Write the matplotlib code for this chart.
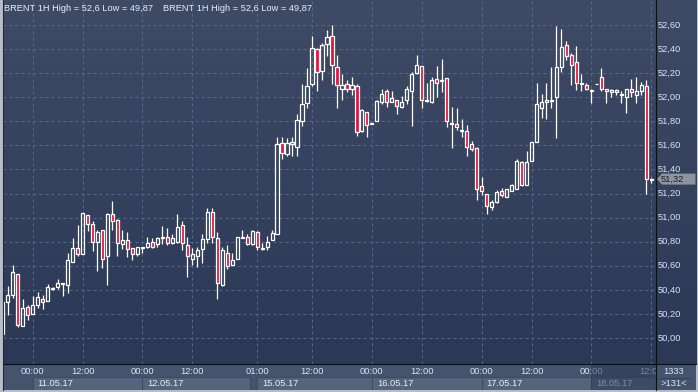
import numpy as np
import matplotlib
matplotlib.use("Agg")
import matplotlib.pyplot as plt
from matplotlib.patches import Rectangle, Polygon

plt.rcParams['font.family'] = ['Liberation Sans', 'DejaVu Sans']

# ---------------- data (hourly BRENT candles) ----------------
opens = [50.03, 50.30, 50.36, 50.53, 50.10, 50.26, 50.20, 50.27, 50.32, 50.31,
         50.41, 50.42, 50.46, 50.44, 50.63, 50.75, 50.70, 51.02, 50.95, 50.80,
         50.90, 50.68, 51.03, 50.98, 50.78, 50.81, 50.75, 50.70, 50.75, 50.76,
         50.80, 50.78, 50.83, 50.84, 50.79, 50.80, 50.94, 50.77, 50.66, 50.68,
         50.74, 50.82, 51.05, 50.83, 50.44, 50.71, 50.61, 50.66, 50.84, 50.84,
         50.78, 50.88, 50.74, 50.76, 50.81, 50.86, 51.62, 51.53, 51.63, 51.59,
         51.80, 51.95, 52.11, 52.40, 52.22, 52.44, 52.51, 52.25, 52.07, 52.11,
         52.07, 52.09, 51.72, 51.88, 51.78, 51.80, 51.96, 52.05, 51.96, 51.98,
         51.92, 51.98, 52.05, 52.20, 52.26, 51.97, 51.96, 52.15, 52.14, 52.16,
         51.78, 51.78, 51.72, 51.72, 51.61, 51.58, 51.26, 51.20, 51.09, 51.13,
         51.22, 51.17, 51.22, 51.24, 51.46, 51.27, 51.47, 51.63, 51.91, 51.98,
         51.97, 52.00, 52.25, 52.43, 52.35, 52.29, 52.11, 52.10, 52.06, 52.11,
         52.17, 52.07, 52.06, 52.06, 52.02, 52.00, 52.07, 52.02, 52.05, 52.09,
         51.32]
highs = [50.32, 50.43, 50.61, 50.53, 50.32, 50.27, 50.35, 50.38, 50.36, 50.45,
         50.42, 50.49, 50.46, 50.71, 50.83, 50.94, 51.04, 51.02, 50.97, 50.90,
         50.90, 51.04, 51.14, 50.99, 50.90, 50.88, 50.75, 50.76, 50.76, 50.84,
         50.83, 50.84, 50.93, 50.91, 50.86, 51.03, 50.97, 50.84, 50.75, 50.76,
         50.86, 51.08, 51.08, 50.88, 50.76, 50.77, 50.71, 50.84, 50.90, 50.86,
         50.90, 50.89, 50.79, 50.85, 50.90, 51.67, 51.67, 51.66, 51.67, 51.86,
         52.11, 52.24, 52.51, 52.41, 52.45, 52.56, 52.60, 52.35, 52.19, 52.14,
         52.17, 52.11, 51.90, 51.88, 51.78, 51.98, 52.07, 52.07, 52.05, 51.98,
         52.01, 52.09, 52.21, 52.35, 52.26, 52.12, 52.17, 52.26, 52.32, 52.16,
         51.92, 51.91, 51.82, 51.77, 51.64, 51.59, 51.34, 51.20, 51.15, 51.23,
         51.25, 51.24, 51.28, 51.49, 51.47, 51.55, 51.63, 52.12, 52.03, 52.12,
         52.25, 52.59, 52.57, 52.47, 52.37, 52.43, 52.19, 52.12, 52.07, 52.11,
         52.24, 52.07, 52.07, 52.07, 52.05, 52.07, 52.15, 52.17, 52.13, 52.14,
         51.33]
lows = [50.01, 50.19, 50.33, 50.09, 50.10, 50.15, 50.20, 50.25, 50.24, 50.31,
        50.40, 50.41, 50.35, 50.37, 50.63, 50.68, 50.70, 50.89, 50.72, 50.56,
        50.58, 50.44, 50.90, 50.68, 50.74, 50.67, 50.65, 50.68, 50.71, 50.75,
        50.75, 50.76, 50.78, 50.77, 50.78, 50.79, 50.73, 50.51, 50.61, 50.59,
        50.62, 50.79, 50.79, 50.32, 50.43, 50.57, 50.61, 50.66, 50.83, 50.77,
        50.77, 50.73, 50.73, 50.73, 50.81, 50.86, 51.49, 51.51, 51.51, 51.51,
        51.76, 51.91, 52.09, 52.05, 52.14, 52.34, 52.11, 51.91, 51.98, 52.04,
        52.02, 51.68, 51.71, 51.67, 51.78, 51.80, 51.94, 51.92, 51.96, 51.86,
        51.91, 51.94, 51.76, 52.19, 51.91, 51.96, 51.95, 52.00, 52.04, 51.75,
        51.58, 51.73, 51.67, 51.51, 51.55, 51.15, 51.19, 51.03, 51.06, 51.12,
        51.17, 51.17, 51.22, 51.24, 51.26, 51.27, 51.47, 51.63, 51.83, 51.82,
        51.91, 51.66, 52.21, 52.31, 52.10, 52.06, 52.05, 52.06, 51.95, 52.11,
        52.05, 51.95, 52.00, 52.02, 51.95, 51.87, 52.00, 51.95, 52.02, 51.20,
        51.29]
closes = [50.30, 50.36, 50.55, 50.11, 50.25, 50.19, 50.27, 50.34, 50.30, 50.42,
          50.41, 50.46, 50.45, 50.65, 50.75, 50.70, 51.04, 50.95, 50.80, 50.88,
          50.66, 51.03, 50.97, 50.79, 50.81, 50.74, 50.70, 50.76, 50.75, 50.79,
          50.76, 50.83, 50.84, 50.79, 50.83, 50.92, 50.79, 50.68, 50.70, 50.73,
          50.82, 51.05, 50.84, 50.46, 50.73, 50.60, 50.65, 50.84, 50.83, 50.78,
          50.89, 50.76, 50.75, 50.80, 50.87, 51.61, 51.54, 51.62, 51.61, 51.81,
          51.94, 52.09, 52.41, 52.21, 52.43, 52.50, 52.27, 52.10, 52.10, 52.07,
          52.10, 51.71, 51.89, 51.77, 51.78, 51.97, 52.03, 51.96, 51.99, 51.93,
          51.96, 52.07, 52.19, 52.27, 51.98, 51.97, 52.14, 52.12, 52.14, 51.80,
          51.78, 51.75, 51.72, 51.59, 51.57, 51.24, 51.22, 51.10, 51.13, 51.21,
          51.19, 51.24, 51.27, 51.47, 51.27, 51.46, 51.63, 51.94, 51.96, 51.96,
          51.98, 52.25, 52.42, 52.34, 52.27, 52.12, 52.12, 52.07, 52.06, 52.11,
          52.07, 52.05, 52.04, 52.04, 52.03, 52.07, 52.04, 52.05, 52.10, 51.32,
          51.32]

time_tick_idx = [6, 16, 28, 38, 51, 62, 74, 84, 96, 106, 118, 130]
time_tick_labels = ['00:00', '12:00', '00:00', '12:00', '01:00', '12:00',
                    '00:00', '12:00', '00:00', '12:00', '00:00', '12:00']
date_start_idx = [6, 28, 51, 74, 96, 118]
date_end_idx = [28, 49.6, 74, 96, 118, 131]
date_labels = ['11.05.17', '12.05.17', '15.05.17', '16.05.17', '17.05.17', '18.05.17']
price_ticks = [50.00, 50.20, 50.40, 50.60, 50.80, 51.00, 51.20, 51.40, 51.60,
               51.80, 52.00, 52.20, 52.40, 52.60]
header = 'BRENT 1H High = 52,6 Low = 49,87'
last_price = 51.32
corner_top, corner_bottom = '1333', '>131<'

# ---------------- layout ----------------
W, H = 698, 392
fig = plt.figure(figsize=(W / 100, H / 100), dpi=100)
fig.patch.set_facecolor('#b7bec9')


def px_axes(x0, y0, x1, y1):
    ax = fig.add_axes([x0 / W, 1 - y1 / H, (x1 - x0) / W, (y1 - y0) / H])
    ax.set_axis_off()
    return ax


XMIN, XMAX = 0.06, 130.85
YMIN, YMAX = 49.784, 52.808
TXT = '#d9e4f4'
FS = 6.7

grad = np.linspace(0, 1, 256).reshape(-1, 1)
from matplotlib.colors import LinearSegmentedColormap
bg_cmap = LinearSegmentedColormap.from_list('bg', ['#2b3856', '#3f4b65'])

# main plot
ax = px_axes(3, 0, 655.5, 364)
ax.set_xlim(XMIN, XMAX)
ax.set_ylim(YMIN, YMAX)
ax.imshow(grad, extent=(XMIN, XMAX, YMIN, YMAX), origin='lower', aspect='auto',
          cmap=bg_cmap, zorder=0)
for v in price_ticks:
    ax.axhline(v, color='#56678a', lw=0.72, dashes=(3, 3), zorder=1)
for t in time_tick_idx:
    ax.axvline(t, color='#56678a', lw=0.72, dashes=(3, 3), zorder=1)

bw = 0.64
for i, (o, h, l, c) in enumerate(zip(opens, highs, lows, closes)):
    top, bot = max(o, c), min(o, c)
    if top - bot < 0.008:
        mid = (top + bot) / 2
        top, bot = mid + 0.004, mid - 0.004
    ax.plot([i, i], [top, h], color='white', lw=0.9, solid_capstyle='butt', zorder=3)
    ax.plot([i, i], [l, bot], color='white', lw=0.9, solid_capstyle='butt', zorder=3)
    fc = '#e3143c' if c < o else 'none'
    ax.add_patch(Rectangle((i - bw / 2, bot), bw, top - bot, facecolor=fc,
                           edgecolor='white', lw=0.9, zorder=4))

ax.text(0.3, 52.808 - 8.5 / 120.4, header, color='#e8eef7', fontsize=FS,
        va='center', ha='left', zorder=6)
ax.text(32.2, 52.808 - 8.5 / 120.4, header, color='#e8eef7', fontsize=FS,
        va='center', ha='left', zorder=6)

# right price panel
axr = px_axes(655.5, 0, 696, 364)
axr.set_xlim(0, 40.5)
axr.set_ylim(YMIN, YMAX)
axr.imshow(grad, extent=(0, 40.5, YMIN, YMAX), origin='lower', aspect='auto',
           cmap=bg_cmap, zorder=0)
for v in price_ticks:
    axr.text(2.0, v, f'{v:.2f}'.replace('.', ','), color=TXT, fontsize=FS,
             va='center', ha='left', zorder=3)
py = last_price
hh = 5.5 / 120.4
axr.add_patch(Polygon([(1.5, py), (6.5, py + hh), (40.0, py + hh), (40.0, py - hh),
                       (6.5, py - hh)], closed=True, facecolor='#8e949d',
                      edgecolor='none', zorder=4))
axr.text(5.0, py, f'{last_price:.2f}'.replace('.', ','), color='#18202f',
         fontsize=FS, va='center', ha='left', zorder=5)

# bottom time panel
axb = px_axes(3, 364, 655.5, 390)
axb.set_xlim(XMIN, XMAX)
axb.set_ylim(26, 0)
axb.add_patch(Rectangle((XMIN, 0), XMAX - XMIN, 26, facecolor='#46536d',
                        edgecolor='none', zorder=0))
for s, e, lab in zip(date_start_idx, date_end_idx, date_labels):
    axb.add_patch(Rectangle((s, 13), e - s, 13, facecolor='#56637c',
                            edgecolor='#3c4963', lw=0.7, zorder=1))
    axb.text(s + 1.0, 19.5, lab, color='#e8eef7', fontsize=FS, va='center',
             ha='left', zorder=2, clip_on=True)
for t, lab in zip(time_tick_idx, time_tick_labels):
    axb.text(t, 7.0, lab, color=TXT, fontsize=FS, va='center', ha='center',
             zorder=2, clip_on=True)
axb.add_patch(Rectangle((118, 0), XMAX - 118, 26, facecolor='#2c3956',
                        alpha=0.55, edgecolor='none', zorder=3))

# corner box
axc = px_axes(655.5, 364, 696, 390)
axc.set_xlim(0, 40.5)
axc.set_ylim(26, 0)
axc.add_patch(Rectangle((0, 0), 40.5, 26, facecolor='#46536d', edgecolor='none'))
axc.text(18, 7.0, corner_top, color=TXT, fontsize=FS, ha='center', va='center')
axc.plot([4, 34], [13.5, 13.5], color='#36435d', lw=0.8)
axc.text(18, 19.5, corner_bottom, color=TXT, fontsize=FS, ha='center', va='center')

# separator lines
sep = fig.add_axes([0, 0, 1, 1], zorder=10)
sep.set_axis_off()
sep.set_xlim(0, W)
sep.set_ylim(H, 0)
sep.plot([655.5, 655.5], [0, 390], color='#0b0f18', lw=0.8)
sep.plot([3, 696], [364, 364], color='#0b0f18', lw=0.8)
sep.plot([2.5, 2.5], [0, 390], color='#1f2a40', lw=0.8)

fig.savefig('out.png', dpi=100)
